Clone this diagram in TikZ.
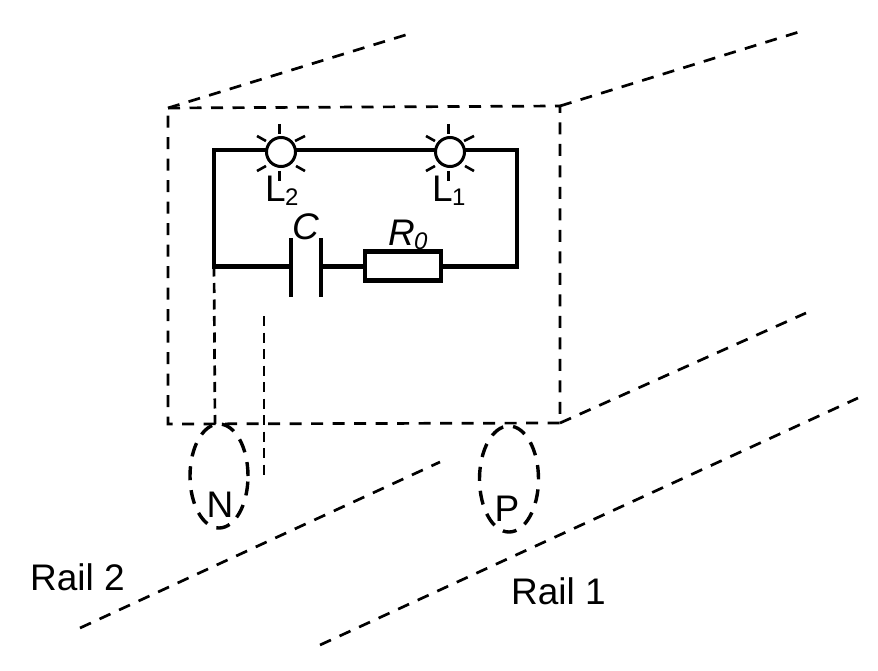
\documentclass[tikz,border=0pt]{standalone}
\usepackage{fontspec}
\setmainfont{Liberation Sans}
\usetikzlibrary{shapes.geometric}
\tikzset{
  dashln/.style={draw=black,line width=2.7pt,dash pattern=on 12pt off 9.5pt},
  dashthin/.style={draw=black,line width=2.7pt,dash pattern=on 10pt off 6.5pt},
  wheel/.style={ellipse,draw=black,line width=3.4pt,dash pattern=on 14pt off 10pt,inner sep=0pt,minimum width=58pt,minimum height=104pt},
  wire/.style={draw=black,line width=4.4pt},
  lamp/.style={circle,draw=black,line width=3pt,fill=white,minimum size=29pt,inner sep=0pt},
  ray/.style={draw=black,line width=2.6pt},
  lbl/.style={font=\fontsize{37}{37}\selectfont,inner sep=0pt,text=black},
  lblit/.style={lbl,font=\fontsize{37}{37}\selectfont\itshape},
  res/.style={rectangle,draw=black,line width=4.4pt,fill=white,minimum width=76pt,minimum height=29pt,inner sep=0pt},
}
\newcommand{\lamprays}[1]{%
  \begin{scope}[shift={(#1)}]
    \draw[ray] (-1.5,-28) -- (-1.5,-18);
    \draw[ray] (-1.5,19) -- (-1.5,29);
    \draw[ray] (-24,-16) -- (-15,-11);
    \draw[ray] (-24,19) -- (-15,14);
    \draw[ray] (24,-16) -- (14,-11);
    \draw[ray] (24,19) -- (15,14);
  \end{scope}}
\begin{document}
\begin{tikzpicture}[x=1pt,y=-1pt]
\useasboundingbox (0,0) rectangle (878,671);
% car body
\coordinate (TL) at (168,108);
\coordinate (TR) at (560,106);
\coordinate (BR) at (560,423);
\coordinate (BL) at (168,424);
\coordinate (TLend) at (412,33);
\coordinate (TRend) at (802,31);
\coordinate (BRend) at (806,313);
\draw[dashln] (TL) -- (TR) -- (BR) -- (BL) -- cycle;
\draw[dashln] (TL) -- (TLend);
\draw[dashln] (TR) -- (TRend);
\draw[dashln] (BR) -- (BRend);
% rails
\coordinate (R2a) at (80,628);
\coordinate (R2b) at (440,462);
\coordinate (R1a) at (320,645);
\coordinate (R1b) at (858,398);
\draw[dashln] (R2a) -- (R2b);
\draw[dashln] (R1a) -- (R1b);
% wheels
\node[wheel] (N) at (219,476) {};
\node[wheel,minimum width=59pt,minimum height=106pt] (P) at (509,479) {};
\node[lbl] (Nl) at (220,505) {N};
\node[lbl] (Pl) at (507,509) {P};
% circuit corners
\coordinate (cTL) at (214,150);
\coordinate (cTR) at (517,150);
\coordinate (cBR) at (517,266.5);
\coordinate (cBL) at (214,266.5);
\coordinate (c1) at (291,266.5);
\coordinate (c2) at (321,266.5);
\coordinate (p1a) at (291,238);
\coordinate (p1b) at (291,297);
\coordinate (p2a) at (321,238);
\coordinate (p2b) at (321,297);
\coordinate (g1) at (215,424);
\coordinate (g2a) at (264,316);
\coordinate (g2b) at (264,476);
\draw[dashthin] (cBL) -- (g1);
\draw[dashthin] (g2a) -- (g2b);
\draw[wire,line join=miter] (c1) -- (cBL) -- (cTL) -- (cTR) -- (cBR) -- (c2);
\draw[wire] (p1a) -- (p1b);
\draw[wire] (p2a) -- (p2b);
\node[res] (R) at (403,266) {};
\node[lamp] (L2) at (281,152) {};
\node[lamp] (L1) at (450,152) {};
\lamprays{281,152}
\lamprays{450,152}
\node[lbl,anchor=base west] (L2t) at (265,202) {L};
\node[font=\fontsize{24}{24}\selectfont,inner sep=0pt,anchor=base west] (L2s) at (285,206) {2};
\node[lbl,anchor=base west] (L1t) at (432,202) {L};
\node[font=\fontsize{24}{24}\selectfont,inner sep=0pt,anchor=base west] (L1s) at (452,206) {1};
\node[lblit,anchor=base west] (Cl) at (292,240) {C};
\node[lblit,anchor=base west] (Rl) at (388,245) {R};
\node[font=\fontsize{24}{24}\selectfont\itshape,inner sep=0pt,anchor=base west] (Rs) at (414,249) {0};
\node[lbl,anchor=base west] (Rail2) at (30,590) {Rail 2};
\node[lbl,anchor=base west] (Rail1) at (511,604) {Rail 1};
\end{tikzpicture}
\end{document}
